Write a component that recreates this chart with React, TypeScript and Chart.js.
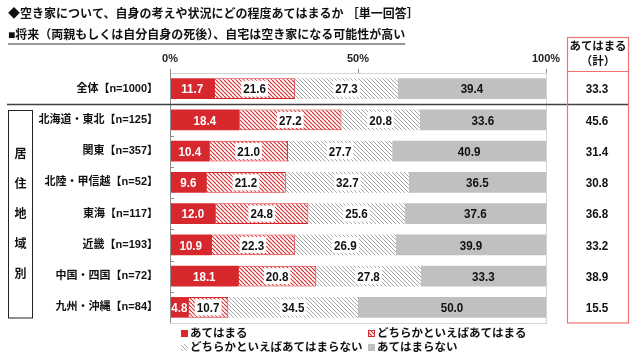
import React, { useEffect, useRef } from "react";
import { Chart, registerables } from "chart.js";

Chart.register(...registerables);

const categories = [
  "全体【n=1000】",
  "北海道・東北【n=125】",
  "関東【n=357】",
  "北陸・甲信越【n=52】",
  "東海【n=117】",
  "近畿【n=193】",
  "中国・四国【n=72】",
  "九州・沖縄【n=84】",
];
const seriesNames = [
  "あてはまる",
  "どちらかといえばあてはまる",
  "どちらかといえばあてはまらない",
  "あてはまらない",
];
const applies = [11.7, 18.4, 10.4, 9.6, 12.0, 10.9, 18.1, 4.8];
const somewhatApplies = [21.6, 27.2, 21.0, 21.2, 24.8, 22.3, 20.8, 10.7];
const somewhatNot = [27.3, 20.8, 27.7, 32.7, 25.6, 26.9, 27.8, 34.5];
const notApply = [39.4, 33.6, 40.9, 36.5, 37.6, 39.9, 33.3, 50.0];
const appliesTotal = [33.3, 45.6, 31.4, 30.8, 36.8, 33.2, 38.9, 15.5];
const xTicks = [0, 50, 100];
const titleText = "◆空き家について、自身の考えや状況にどの程度あてはまるか ［単一回答］";
const subtitleText = "■将来（両親もしくは自分自身の死後）、自宅は空き家になる可能性が高い";
const groupLabel = "居住地域別";
const totalHeader = ["あてはまる", "（計）"];

const FONT = '"Liberation Sans", "Noto Sans CJK JP", sans-serif';
const RED = "#d7282e";
const GRAY = "#c0c0c0";
const BOX_RED = "#f07272";

function hatch(color: string, bg: string, size: number, lw: number) {
  const c = document.createElement("canvas");
  c.width = size;
  c.height = size;
  const g = c.getContext("2d")!;
  g.fillStyle = bg;
  g.fillRect(0, 0, size, size);
  g.strokeStyle = color;
  g.lineWidth = lw;
  g.beginPath();
  for (let k = -1; k <= 1; k++) {
    g.moveTo(k * size, 0);
    g.lineTo(k * size + size, size);
  }
  g.stroke();
  return g.createPattern(c, "repeat")!;
}

function condensedText(ctx: CanvasRenderingContext2D, text: string, x: number, y: number, squeeze: number) {
  const w = ctx.measureText(text).width;
  ctx.fillText(text, x, y, w * squeeze);
  return w * squeeze;
}

export default function App() {
  const ref = useRef<HTMLCanvasElement>(null);

  useEffect(() => {
    const canvas = ref.current!;
    const redHatch = hatch(RED, "#ffffff", 4, 1.1);
    const grayHatch = hatch("#a6a6a6", "#ffffff", 4, 1);
    const fills: any[] = [RED, redHatch, grayHatch, GRAY];
    const hatched = [false, true, true, false];
    const values = [applies, somewhatApplies, somewhatNot, notApply];

    const labelPlugin = {
      id: "valueLabels",
      afterDatasetsDraw(chart: any) {
        const ctx = chart.ctx;
        ctx.save();
        ctx.font = `bold 13.5px ${FONT}`;
        ctx.textAlign = "center";
        ctx.textBaseline = "middle";
        chart.data.datasets.forEach((ds: any, i: number) => {
          const meta = chart.getDatasetMeta(i);
          meta.data.forEach((bar: any, j: number) => {
            const p = bar.getProps(["x", "y", "base"], true);
            const cx = (p.x + p.base) / 2;
            const text = (ds.data[j] as number).toFixed(1);
            const w = ctx.measureText(text).width * 0.86;
            if (hatched[i]) {
              ctx.fillStyle = "#ffffff";
              ctx.fillRect(cx - w / 2 - 2, p.y - 8, w + 4, 16);
            }
            ctx.fillStyle = i === 0 ? "#ffffff" : "#111111";
            ctx.fillText(text, cx, p.y + 1, w);
          });
        });
        ctx.restore();
      },
    };

    const decoPlugin = {
      id: "deco",
      beforeDatasetsDraw(chart: any) {
        const ctx = chart.ctx;
        const a = chart.chartArea;
        ctx.save();
        ctx.strokeStyle = "#d4d4d4";
        ctx.lineWidth = 1;
        ctx.strokeRect(Math.round(a.left) + 0.5, Math.round(a.top) + 0.5, a.right - a.left, a.bottom - a.top);
        ctx.restore();
      },
      afterDraw(chart: any) {
        const ctx = chart.ctx;
        const a = chart.chartArea;
        const ys = chart.scales.y;
        ctx.save();
        // titles
        ctx.fillStyle = "#111";
        ctx.textBaseline = "middle";
        ctx.textAlign = "left";
        ctx.font = `bold 12px ${FONT}`;
        ctx.fillText(titleText, 8, 15);
        ctx.font = `bold 12px ${FONT}`;
        const sw = ctx.measureText(subtitleText).width;
        ctx.strokeStyle = "#777";
        ctx.lineWidth = 1.6;
        ctx.beginPath();
        ctx.moveTo(8, 44);
        ctx.lineTo(8 + sw, 44);
        ctx.stroke();
        ctx.fillText(subtitleText, 8, 36);

        // left axis line + small ticks between categories
        const rowH = ys.getPixelForValue(1) - ys.getPixelForValue(0);
        ctx.strokeStyle = "#8c8c8c";
        ctx.lineWidth = 1;
        ctx.beginPath();
        ctx.moveTo(Math.round(a.left) + 0.5, a.top);
        ctx.lineTo(Math.round(a.left) + 0.5, a.bottom);
        for (let i = 1; i < categories.length; i++) {
          const yb = Math.round(ys.getPixelForValue(i) - rowH / 2) + 0.5;
          ctx.moveTo(a.left, yb);
          ctx.lineTo(a.left + 4, yb);
        }
        ctx.stroke();

        // separator between overall and regions
        const sepY = Math.round(ys.getPixelForValue(0) + rowH / 2) + 0.5;
        ctx.strokeStyle = "#404040";
        ctx.lineWidth = 1.3;
        ctx.beginPath();
        ctx.moveTo(7, sepY);
        ctx.lineTo(628, sepY);
        ctx.stroke();

        // group box
        const gTop = sepY + 6;
        const gBot = a.bottom - 5;
        ctx.strokeStyle = "#222";
        ctx.lineWidth = 1;
        ctx.strokeRect(8.5, gTop, 24, gBot - gTop);
        ctx.font = `bold 12px ${FONT}`;
        ctx.textAlign = "center";
        ctx.fillStyle = "#111";
        const gMid = (gTop + gBot) / 2;
        const chars = Array.from(groupLabel);
        chars.forEach((ch, k) => {
          ctx.fillText(ch, 20.5, gMid + (k - (chars.length - 1) / 2) * 30);
        });

        // right total box
        const bx = 567.5, bw = 61, bTop = 37.5;
        ctx.strokeStyle = BOX_RED;
        ctx.lineWidth = 1.2;
        ctx.strokeRect(bx, bTop, bw, Math.round(a.bottom) - bTop);
        ctx.beginPath();
        ctx.moveTo(bx, Math.round(a.top) - 1.5);
        ctx.lineTo(bx + bw, Math.round(a.top) - 1.5);
        ctx.stroke();
        ctx.fillStyle = "#111";
        ctx.font = `bold 11.5px ${FONT}`;
        ctx.fillText(totalHeader[0], bx + bw / 2, 47, 57);
        ctx.fillText(totalHeader[1], bx + bw / 2, 62);
        ctx.font = `bold 13.5px ${FONT}`;
        appliesTotal.forEach((v, i) => {
          const t = v.toFixed(1);
          condensedText(ctx, t, bx + bw / 2 - 1, ys.getPixelForValue(i) + 1, 0.86);
        });

        // legend
        ctx.font = `bold 11.5px ${FONT}`;
        ctx.textAlign = "left";
        const legPos = [
          [181, 334],
          [368, 334],
          [181, 348],
          [368, 348],
        ];
        seriesNames.forEach((name, i) => {
          const [lx, ly] = legPos[i];
          ctx.fillStyle = fills[i];
          ctx.fillRect(lx, ly - 4, 7, 7);
          if (i === 1) {
            ctx.strokeStyle = RED;
            ctx.lineWidth = 1;
            ctx.strokeRect(lx + 0.5, ly - 3.5, 6, 6);
          }
          ctx.fillStyle = "#111";
          ctx.fillText(name, lx + 9, ly);
        });
        ctx.restore();
      },
    };

    const chart = new Chart(canvas, {
      type: "bar",
      data: {
        labels: categories,
        datasets: values.map((d, i) => ({
          label: seriesNames[i],
          data: d,
          backgroundColor: fills[i],
          borderColor: i === 1 ? RED : "rgba(0,0,0,0)",
          borderWidth: i === 1 ? 1 : 0,
          borderSkipped: false,
          barPercentage: 0.66,
          categoryPercentage: 1,
        })),
      },
      options: {
        indexAxis: "y",
        animation: false,
        responsive: false,
        maintainAspectRatio: false,
        layout: { padding: { top: 50, left: 0, right: 94, bottom: 37 } },
        plugins: {
          legend: { display: false },
          tooltip: { enabled: false },
          title: { display: false },
        },
        scales: {
          x: {
            position: "top",
            stacked: true,
            min: 0,
            max: 100,
            afterBuildTicks: (s: any) => {
              s.ticks = xTicks.map((v) => ({ value: v }));
            },
            afterFit: (s: any) => {
              s.height = 23;
            },
            ticks: {
              callback: (v: any) => v + "%",
              font: { family: FONT, size: 11, weight: "bold" },
              color: "#222",
              padding: 3,
              maxRotation: 0,
            },
            grid: { drawOnChartArea: false, tickLength: 4, color: "#8c8c8c" },
            border: { display: true, color: "#bfbfbf" },
          },
          y: {
            stacked: true,
            afterFit: (s: any) => {
              s.width = 170;
            },
            ticks: {
              font: { family: FONT, size: 11, weight: "bold" },
              color: "#111",
              padding: 12,
            },
            grid: { display: false, drawTicks: false },
            border: { display: false },
          },
        },
      },
      plugins: [decoPlugin, labelPlugin],
    } as any);
    return () => chart.destroy();
  }, []);

  return (
    <div style={{ position: "absolute", left: 0, top: 0, width: 640, height: 360, background: "#fff" }}>
      <canvas ref={ref} width={640} height={360} />
    </div>
  );
}
